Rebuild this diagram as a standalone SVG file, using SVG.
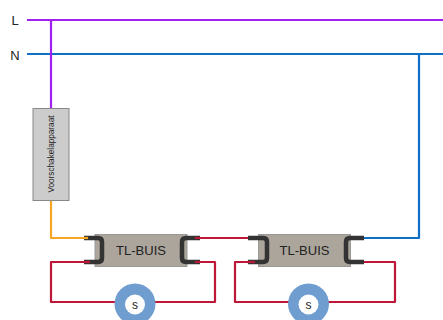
<svg xmlns="http://www.w3.org/2000/svg" width="443" height="320" viewBox="0 0 443 320">
<style>
text{font-family:"Liberation Sans",Arial,sans-serif;fill:#222;text-anchor:middle}
.w{fill:none;stroke-width:2.2;stroke-linejoin:round}
.r{stroke:#bf1737}.b{stroke:#0f6fc6}.p{stroke:#a020f0}.o{stroke:#f5a623}
.k{fill:none;stroke:#333;stroke-width:4.5;stroke-linejoin:round}
.tube{fill:#aca59c;stroke:#999}
.ring{fill:#6f9dd0}
</style>
<g id="connectors">
<path class="w b" d="M27 54H443"/>
<path class="w b" d="M419 54V238H364"/>
<path class="w p" d="M27 20H443"/>
<path class="w p" d="M51 20V109"/>
<path class="w o" d="M51 200V238H86"/>
<path class="w r" d="M84 262H51V302H116"/>
<path class="w r" d="M196 238H248"/>
<path class="w r" d="M196 262H215V302H154"/>
<path class="w r" d="M258 262H235V302H290"/>
<path class="w r" d="M364 262H395V302H328"/>
</g>
<g id="label-L"><text x="15" y="24.500" font-size="13">L</text></g>
<g id="label-N"><text x="15" y="60" font-size="13">N</text></g>
<g id="ballast">
<rect x="33" y="108.500" width="36" height="92" fill="#ccc" stroke="#888"/>
<text transform="translate(54 154) rotate(-90)" font-size="8.200">Voorschakelapparaat</text>
</g>
<g id="tube-1">
<rect class="tube" x="95" y="234.500" width="92" height="32"/>
<path class="k" d="M84 238H98Q102 238 102 242V258Q102 262 98 262H84"/>
<path class="k" d="M200 238H186Q182 238 182 242V258Q182 262 186 262H200"/>
<path class="w o" d="M84 238H88"/>
<path class="w r" d="M84 262H90"/>
<path class="w r" d="M195 238H201M195 262H201"/>
<text x="141" y="255" font-size="13">TL-BUIS</text>
</g>
<g id="tube-2">
<rect class="tube" x="258.500" y="234.500" width="92" height="32"/>
<path class="k" d="M248 238H263Q267 238 267 242V258Q267 262 263 262H248"/>
<path class="k" d="M364 238H350Q346 238 346 242V258Q346 262 350 262H364"/>
<path class="w r" d="M247 262H255"/>
<text x="304.500" y="255" font-size="13">TL-BUIS</text>
</g>
<g id="starter-1">
<circle class="ring" cx="135" cy="304" r="20.500"/>
<circle cx="135" cy="304.500" r="10" fill="#fff"/>
<text x="135" y="309" font-size="12">s</text>
</g>
<g id="starter-2">
<circle class="ring" cx="308.500" cy="304" r="20.500"/>
<circle cx="308.500" cy="304.500" r="10" fill="#fff"/>
<text x="308.500" y="309" font-size="12">s</text>
</g>
</svg>
